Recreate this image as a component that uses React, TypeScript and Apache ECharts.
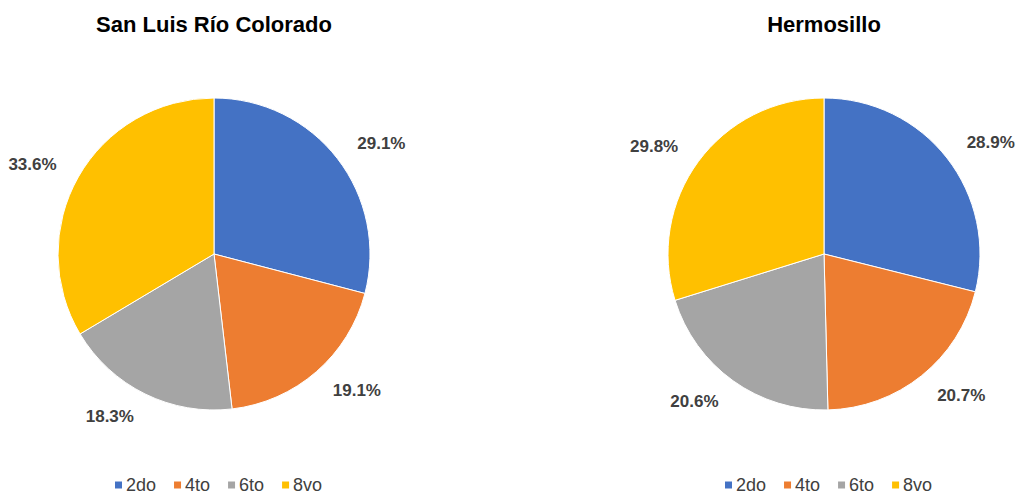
import React, { useEffect, useRef } from "react";
import * as echarts from "echarts";

const categories = ["2do", "4to", "6to", "8vo"];
const colors = ["#4472C4", "#ED7D31", "#A5A5A5", "#FFC000"];
const titles = ["San Luis Río Colorado", "Hermosillo"];
const sanLuisValues = [29.1, 19.1, 18.3, 33.6];
const hermosilloValues = [28.9, 20.7, 20.6, 29.8];

const centersX = [214, 824];
const centerY = 254;
const R = 156;

export default function App() {
  const ref = useRef<HTMLDivElement>(null);
  useEffect(() => {
    const chart = echarts.init(ref.current!, null, { renderer: "svg" });
    const datasets = [sanLuisValues, hermosilloValues];
    const series: any[] = datasets.map((vals, i) => ({
      type: "pie",
      center: [centersX[i], centerY],
      radius: [0, R],
      startAngle: 90,
      clockwise: true,
      avoidLabelOverlap: false,
      data: categories.map((c, k) => ({ name: c, value: vals[k] })),
      silent: true,
      itemStyle: { borderColor: "#ffffff", borderWidth: 1 },
      label: {
        show: true,
        position: "outside",
        distanceToLabelLine: 0,
        formatter: (p: any) => p.value.toFixed(1) + "%",
        fontFamily: "Liberation Sans",
        fontWeight: "bold",
        fontSize: 17,
        color: "#404040",
      },
      labelLine: { show: false, length: 25, length2: 0 },
    }));
    chart.setOption({
      animation: false,
      color: colors,
      title: titles.map((t, i) => ({
        text: t,
        left: centersX[i] - 5,
        top: 8,
        textAlign: "center",
        textStyle: {
          fontFamily: "Liberation Sans",
          fontWeight: "bold",
          fontSize: 22,
          color: "#000000",
        },
      })),
      legend: centersX.map((cx) => ({
        data: categories.map((c, k) => ({ name: c, itemStyle: { color: colors[k] } })),
        left: cx - 101,
        top: 476,
        padding: 0,
        icon: "rect",
        itemWidth: 9,
        itemHeight: 9,
        itemGap: 16,
        selectedMode: false,
        textStyle: {
          fontFamily: "Liberation Sans",
          fontSize: 18,
          color: "#404040",
          padding: [0, 0, 0, -2],
        },
      })),
      series,
    });
    return () => chart.dispose();
  }, []);
  return (
    <div
      ref={ref}
      style={{ position: "fixed", left: 0, top: 0, width: 1017, height: 495, background: "#fff" }}
    />
  );
}
